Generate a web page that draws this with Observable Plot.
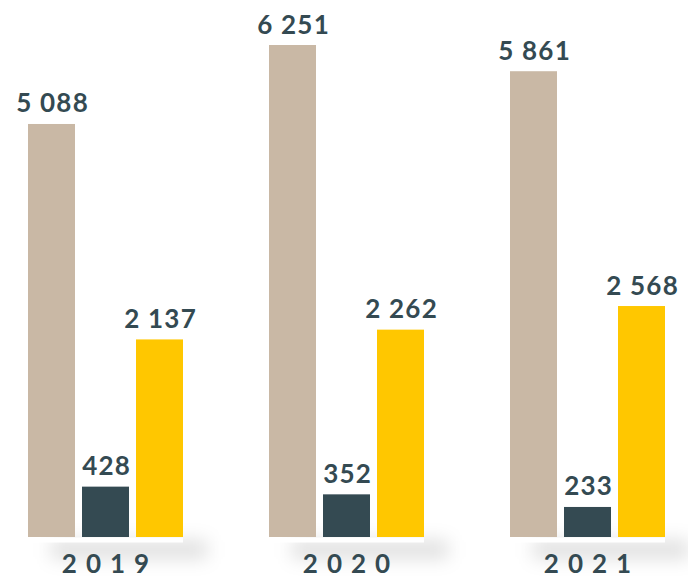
<!DOCTYPE html>
<html>
<head>
<meta charset="utf-8">
<script src="https://cdn.jsdelivr.net/npm/d3@7"></script>
<script src="https://cdn.jsdelivr.net/npm/@observablehq/plot@0.6"></script>
<style>
  html, body { margin: 0; padding: 0; background: #ffffff; }
  #chart { width: 688px; height: 578px; }
  text[aria-label="years"] { letter-spacing: 9px; }
  text[aria-label="values"] { letter-spacing: 1.2px; }
</style>
</head>
<body>
<div id="chart"></div>
<script>
const years = ["2019", "2020", "2021"];
const series = ["Série 1", "Série 2", "Série 3"];
const values2019 = [5088, 428, 2137];
const values2020 = [6251, 352, 2262];
const values2021 = [5861, 233, 2568];
const colors = ["#C9B8A5", "#344A52", "#FFC700"];
const textColor = "#344A52";

const byYear = {"2019": values2019, "2020": values2020, "2021": values2021};
const data = years.flatMap(y => series.map((s, i) => ({year: y, series: s, value: byYear[y][i]})));
const fmt = v => d3.format(",")(v).replace(/,/g, " ");

const chart = Plot.plot({
  width: 688,
  height: 578,
  marginTop: 45,
  marginBottom: 41,
  marginLeft: 27,
  marginRight: 23,
  style: {fontFamily: "Lato, 'Open Sans', sans-serif", background: "transparent"},
  fx: {domain: years, paddingInner: 0.353, paddingOuter: 0, axis: null, label: null},
  x: {domain: series, paddingInner: 0.138, paddingOuter: 0, axis: null, label: null},
  y: {type: "pow", exponent: 0.85, domain: [0, 6251], axis: null, label: null},
  color: {domain: series, range: colors},
  marks: [
    Plot.ruleY([0], {stroke: "#000", strokeOpacity: 0.13, strokeWidth: 18, dy: 12, dx: 24, imageFilter: "blur(9px)"}),
    Plot.ruleY([0], {stroke: "#ffffff", strokeWidth: 5, dy: 2.5}),
    Plot.barY(data, {fx: "year", x: "series", y: "value", fill: "series"}),
    Plot.text(data, {fx: "year", x: "series", y: "value", text: d => fmt(d.value), lineAnchor: "bottom", dy: -12, dx: 0.6,
      fontSize: 26, fontWeight: 700, fill: textColor, ariaLabel: () => "values"}),
    Plot.text(years, {fx: d => d, text: d => d, frameAnchor: "bottom", lineAnchor: "top", dy: 17, dx: 4.5,
      fontSize: 26, fontWeight: 700, fill: textColor, ariaLabel: () => "years"})
  ]
});
document.getElementById("chart").append(chart);
</script>
</body>
</html>
